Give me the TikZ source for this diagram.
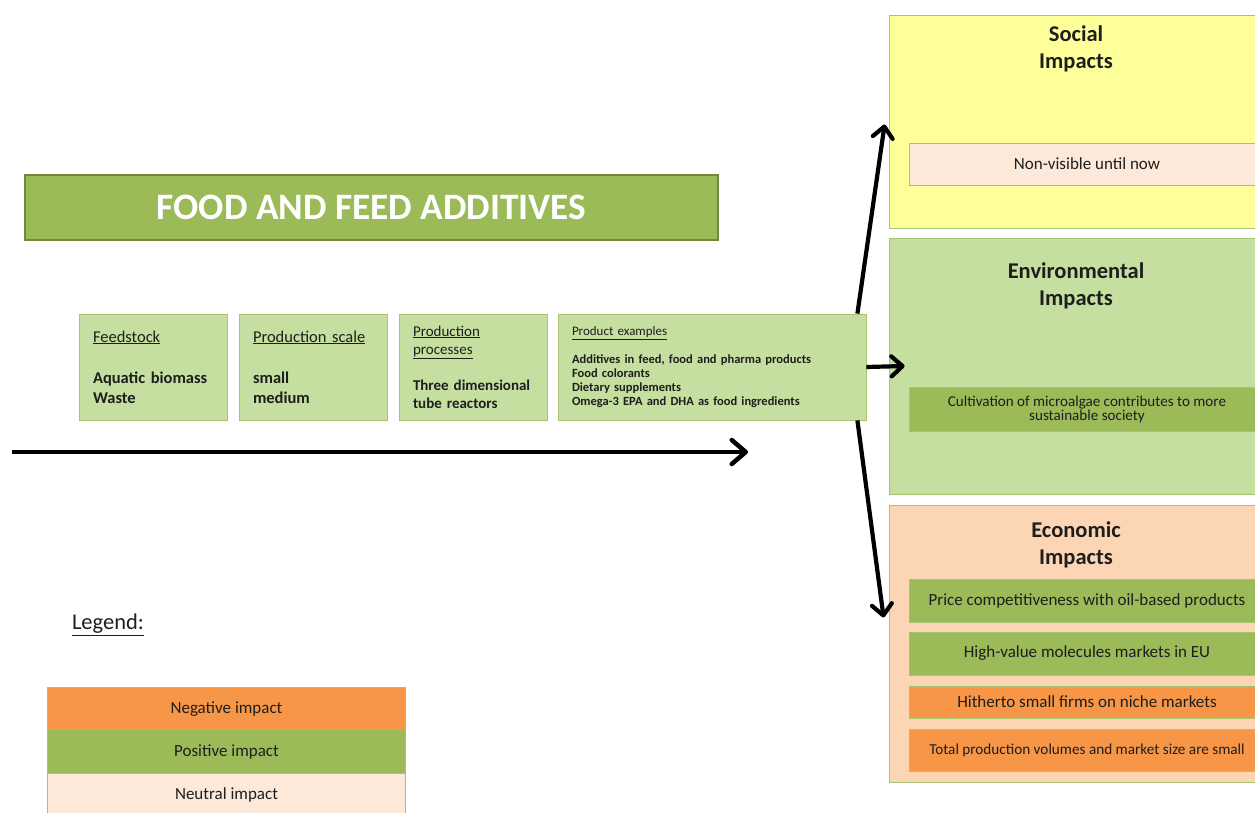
\documentclass[tikz,border=0pt]{standalone}
\usepackage{fontspec}
\setmainfont{Carlito}
\usetikzlibrary{arrows.meta}

\definecolor{posGreen}{HTML}{9BBB59}
\definecolor{banEdge}{HTML}{71893F}
\definecolor{boxGreen}{HTML}{C4DF9F}
\definecolor{lineGreen}{HTML}{A8C471}
\definecolor{negOrange}{HTML}{F79646}
\definecolor{neuPeach}{HTML}{FDE9D9}
\definecolor{econPeach}{HTML}{FCD5B5}
\definecolor{socYellow}{HTML}{FFFF99}
\definecolor{txtDark}{HTML}{1E1E1E}

\def\pX{1082}
\def\iX{1087}

\tikzset{
  x=1pt, y=-1pt,
  inbox/.style={draw=lineGreen, line width=0.8pt, fill=boxGreen, minimum height=106pt,
                inner xsep=14pt, inner ysep=0pt, align=left, text=txtDark},
  panel/.style={draw=lineGreen, line width=0.8pt, minimum width=386pt},
  ptitle/.style={font=\bfseries\fontsize{22.5}{27}\selectfont, align=center, text=txtDark},
  impact/.style={draw=lineGreen, line width=0.8pt, minimum width=356pt, align=center,
                 text=txtDark, font=\fontsize{17}{17}\selectfont},
  legcell/.style={minimum width=357pt, minimum height=43pt, text=txtDark,
                  font=\fontsize{17}{17}\selectfont},
  flow/.style={line width=4.5pt, -{Straight Barb[round,length=14pt,width=24pt]}},
  flowsm/.style={line width=4.2pt, -{Straight Barb[round,length=11pt,width=20pt]}},
}

\begin{document}
\begin{tikzpicture}
    \useasboundingbox (0,0) rectangle (1255,812);
    \clip (0,0) rectangle (1255,812);

    %%   (label)  (x, y)  {\text}
    \node[draw=banEdge, line width=2pt, fill=posGreen, minimum width=693pt, minimum height=65pt,
          text=white, font=\bfseries\fontsize{37.3}{37}\selectfont] (ban) at (371.5,207.5) {FOOD AND FEED ADDITIVES};

    \node[inbox, minimum width=148pt, text width=120pt, font=\fontsize{16.5}{20}\selectfont] (feed) at (153,367)
        {\underline{Feedstock}\\[21pt]\textbf{Aquatic biomass}\\\textbf{Waste}};
    \node[inbox, minimum width=148pt, text width=120pt, font=\fontsize{16.5}{20}\selectfont] (scale) at (313,367)
        {\underline{Production scale}\\[21pt]\textbf{small}\\\textbf{medium}};
    \node[inbox, minimum width=148pt, text width=120pt, font=\fontsize{15}{18}\selectfont] (proc) at (473,367)
        {\underline{Production}\\\underline{processes}\\[18pt]\textbf{Three dimensional}\\\textbf{tube reactors}};
    \node[inbox, minimum width=308pt, text width=280pt, font=\fontsize{12.5}{14}\selectfont] (prod) at (712,367)
        {{\fontsize{13}{14}\selectfont\underline{Product examples}}\\[14pt]%
         \textbf{Additives in feed, food and pharma products}\\\textbf{Food colorants}\\%
         \textbf{Dietary supplements}\\\textbf{Omega-3 EPA and DHA as food ingredients}};

    \coordinate (flowS) at (12,452);
    \coordinate (flowE) at (748,452);
    \draw[flow] (flowS) -- (flowE);

    %% impact panels
    \node[panel, fill=socYellow, minimum height=213pt] (soc) at (\pX,121.5) {};
    \node[panel, fill=boxGreen, minimum height=256pt] (env) at (\pX,366) {};
    \node[panel, fill=econPeach, minimum height=277pt] (eco) at (\pX,643.5) {};

    \node[ptitle] (socT) at (1076,49) {Social\\Impacts};
    \node[ptitle] (envT) at (1076,286) {Environmental\\Impacts};
    \node[ptitle] (ecoT) at (1076,545) {Economic\\Impacts};

    \node[impact, fill=neuPeach, minimum height=42pt] (soc1) at (\iX,164) {Non-visible until now};
    \node[impact, fill=posGreen, minimum height=44pt, font=\fontsize{15.1}{14}\selectfont] (env1) at (\iX,409)
        {Cultivation of microalgae contributes to more\\sustainable society};
    \node[impact, fill=posGreen, minimum height=43pt] (eco1) at (\iX,600.5) {Price competitiveness with oil-based products};
    \node[impact, fill=posGreen, minimum height=43pt] (eco2) at (\iX,653.5) {High-value molecules markets in EU};
    \node[impact, fill=negOrange, minimum height=32pt] (eco3) at (\iX,702) {Hitherto small firms on niche markets};
    \node[impact, fill=negOrange, minimum height=42pt, font=\fontsize{15.2}{14}\selectfont] (eco4) at (\iX,750)
        {Total production volumes and market size are small};

    \draw[flowsm] ([xshift=-9pt]prod.north east) -- ([xshift=-4pt,yshift=-3pt]soc.west);
    \draw[flowsm] (prod.east) -- ([xshift=16pt]env.west);
    \draw[flowsm] ([xshift=-9pt]prod.south east) -- ([xshift=-5pt,yshift=26pt]eco.west);

    %% legend
    \node[text=txtDark, font=\fontsize{22.5}{22}\selectfont] (leg) at (108,625) {\underline{Legend:}};
    \node[legcell, fill=negOrange] (legNeg) at (226.5,709) {Negative impact};
    \node[legcell, fill=posGreen] (legPos) at (226.5,751.5) {Positive impact};
    \node[legcell, fill=neuPeach] (legNeu) at (226.5,794.5) {Neutral impact};
    \draw[lineGreen, line width=0.8pt] (legNeg.north west) rectangle (legNeu.south east);
    \draw[lineGreen, line width=0.8pt] (legPos.south west) -- (legPos.south east);
\end{tikzpicture}
\end{document}
